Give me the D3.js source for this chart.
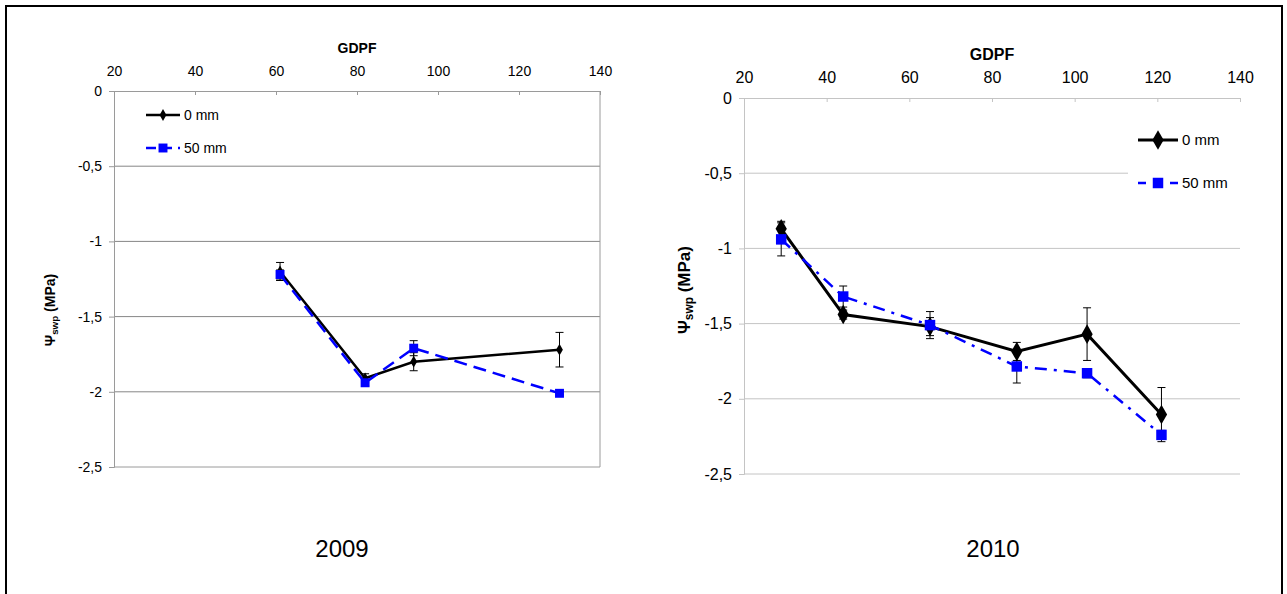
<!DOCTYPE html>
<html>
<head>
<meta charset="utf-8">
<script src="https://cdn.jsdelivr.net/npm/d3@7/dist/d3.min.js"></script>
<style>
  body { margin: 0; background: #fff; }
  svg { display: block; font-family: "Liberation Sans", Arial, sans-serif; }
</style>
</head>
<body>
<div id="chart"></div>
<script>
// ---- data ----
var xTicks = [20, 40, 60, 80, 100, 120, 140];
var yTicks = [0, -0.5, -1, -1.5, -2, -2.5];
var seriesNames = ["0 mm", "50 mm"];

var gdpf2009     = [61, 82, 94, 130];
var mm0_2009     = [-1.20, -1.91, -1.80, -1.72];
var mm0_2009_err = [0.06, 0.03, 0.06, 0.115];
var mm50_2009     = [-1.22, -1.94, -1.71, -2.01];
var mm50_2009_err = [0.03, 0.02, 0.05, 0.01];

var gdpf2010     = [29, 44, 65, 86, 103, 121];
var mm0_2010     = [-0.87, -1.44, -1.52, -1.685, -1.57, -2.105];
var mm0_2010_err = [0.05, 0.03, 0.06, 0.06, 0.175, 0.18];
var mm50_2010     = [-0.94, -1.32, -1.51, -1.785, -1.83, -2.24];
var mm50_2010_err = [0.11, 0.07, 0.09, 0.11, 0.03, 0.03];

var W = 1287, H = 594;
var svg = d3.select("#chart").append("svg").attr("width", W).attr("height", H);

// outer frame
svg.append("rect").attr("x", 6).attr("y", 6).attr("width", W - 11).attr("height", H + 10)
    .attr("fill", "none").attr("stroke", "#000").attr("stroke-width", 2);

var fmt = function(d) { return String(d).replace(".", ","); };

function drawPanel(p) {
    var x = d3.scaleLinear().domain([20, 140]).range([p.left, p.right]);
    var y = d3.scaleLinear().domain([0, -2.5]).range([p.top, p.bottom]);
    var g = svg.append("g");

    // grid lines
    g.selectAll(".grid").data(yTicks.slice(1, -1)).enter().append("line")
        .attr("x1", p.left).attr("x2", p.right)
        .attr("y1", function(d) { return y(d); }).attr("y2", function(d) { return y(d); })
        .attr("stroke", p.gridColor).attr("stroke-width", 1);

    // plot frame / axes
    g.append("line").attr("x1", p.left).attr("x2", p.right).attr("y1", p.bottom).attr("y2", p.bottom)
        .attr("stroke", p.axisColor);
    if (p.rightBorder) {
        g.append("line").attr("x1", p.right).attr("x2", p.right).attr("y1", p.top).attr("y2", p.bottom)
            .attr("stroke", p.axisColor);
    }

    var xAxis = d3.axisTop(x).tickValues(xTicks).tickSize(-4).tickPadding(p.xPad).tickFormat(d3.format("d"));
    var gx = g.append("g").attr("transform", "translate(0," + p.top + ")").call(xAxis);
    var yAxis = d3.axisLeft(y).tickValues(yTicks).tickSize(5).tickPadding(7).tickFormat(fmt);
    var gy = g.append("g").attr("transform", "translate(" + p.left + ",0)").call(yAxis);
    [gx, gy].forEach(function(a) {
        a.selectAll("path.domain").attr("stroke", p.axisColor);
        a.selectAll(".tick line").attr("stroke", p.axisColor);
        a.selectAll("text").attr("fill", "#000").style("font-size", p.tickFont + "px")
            .style("font-family", "'Liberation Sans', Arial, sans-serif");
    });

    // axis titles
    g.append("text").attr("x", (p.left + p.right) / 2).attr("y", p.top - 38)
        .attr("text-anchor", "middle").style("font-weight", "bold").style("font-size", p.titleFont + "px")
        .text("GDPF");
    var yl = g.append("text")
        .attr("transform", "translate(" + p.yLabelX + "," + p.yLabelY + ") rotate(-90)")
        .attr("text-anchor", "middle").style("font-weight", "bold").style("font-size", p.yTitleFont + "px");
    yl.append("tspan").text("Ψ");
    yl.append("tspan").attr("dy", 3).style("font-size", (p.yTitleFont * 0.7) + "px").text("swp");
    yl.append("tspan").attr("dy", -3).text(" (MPa)");

    // series
    var series = [
        { name: seriesNames[0], xs: p.xs, ys: p.mm0, err: p.mm0err, color: "#000", dash: null,
          marker: d3.symbolDiamond, size: p.diamond, width: p.lineW0 },
        { name: seriesNames[1], xs: p.xs, ys: p.mm50, err: p.mm50err, color: "#0000ff", dash: p.dash,
          marker: d3.symbolSquare, size: p.square, width: p.lineW1 }
    ];
    var line = d3.line().x(function(d) { return x(d.x); }).y(function(d) { return y(d.y); });

    series.forEach(function(s) {
        var pts = s.xs.map(function(v, i) { return { x: v, y: s.ys[i], e: s.err[i] }; });
        var eb = g.append("g").attr("stroke", "#000").attr("stroke-width", 1);
        pts.forEach(function(d) {
            eb.append("line").attr("x1", x(d.x)).attr("x2", x(d.x))
                .attr("y1", y(d.y + d.e)).attr("y2", y(d.y - d.e));
            [d.y + d.e, d.y - d.e].forEach(function(v) {
                eb.append("line").attr("x1", x(d.x) - 4).attr("x2", x(d.x) + 4)
                    .attr("y1", y(v)).attr("y2", y(v));
            });
        });
        g.append("path").datum(pts).attr("d", line).attr("fill", "none")
            .attr("stroke", s.color).attr("stroke-width", s.width)
            .attr("stroke-dasharray", s.dash);
        g.selectAll(null).data(pts).enter().append("path")
            .attr("transform", function(d) { return "translate(" + x(d.x) + "," + y(d.y) + ")"; })
            .attr("d", d3.symbol().type(s.marker).size(s.size)).attr("fill", s.color);
    });

    // legend
    var lg = g.append("g");
    if (p.legendBg) {
        lg.append("rect").attr("x", p.legX - 10).attr("y", p.legY - 22).attr("width", 112).attr("height", 68)
            .attr("fill", "#fff");
    }
    series.forEach(function(s, i) {
        var ly = p.legY + i * p.legGap;
        lg.append("line").attr("x1", p.legX).attr("x2", p.legX + p.legLen).attr("y1", ly).attr("y2", ly)
            .attr("stroke", s.color).attr("stroke-width", s.width)
            .attr("stroke-dasharray", i === 0 ? null : p.legDash);
        lg.append("path").attr("transform", "translate(" + (p.legX + p.legLen / 2) + "," + ly + ")")
            .attr("d", d3.symbol().type(s.marker).size(s.size)).attr("fill", s.color);
        lg.append("text").attr("x", p.legX + p.legLen + 4).attr("y", ly + p.legFont * 0.36)
            .style("font-size", p.legFont + "px").text(s.name);
    });

    // year caption
    g.append("text").attr("x", p.yearX).attr("y", 557).attr("text-anchor", "middle")
        .style("font-size", "24px").text(p.year);
}

drawPanel({
    left: 114, right: 600, top: 91, bottom: 467,
    gridColor: "#868686", axisColor: "#9a9a9a", rightBorder: true,
    tickFont: 14, xPad: 15, titleFont: 14, yTitleFont: 14, yLabelX: 55, yLabelY: 310,
    xs: gdpf2009, mm0: mm0_2009, mm0err: mm0_2009_err, mm50: mm50_2009, mm50err: mm50_2009_err,
    diamond: 40, square: 80, lineW0: 2.5, lineW1: 2.5, dash: "13,7",
    legX: 146, legY: 115, legLen: 34, legGap: 33, legDash: "10,6", legFont: 14, legendBg: false,
    year: "2009", yearX: 342
});

drawPanel({
    left: 744, right: 1240, top: 98, bottom: 474,
    gridColor: "#c4c4c4", axisColor: "#c4c4c4", rightBorder: false,
    tickFont: 16, xPad: 15, titleFont: 16, yTitleFont: 17, yLabelX: 690, yLabelY: 290,
    xs: gdpf2010, mm0: mm0_2010, mm0err: mm0_2010_err, mm50: mm50_2010, mm50err: mm50_2010_err,
    diamond: 110, square: 110, lineW0: 3, lineW1: 2.5, dash: "12,7,3,7",
    legX: 1138, legY: 140, legLen: 40, legGap: 43, legDash: "8,8", legFont: 15, legendBg: true,
    year: "2010", yearX: 993
});
</script>
</body>
</html>
